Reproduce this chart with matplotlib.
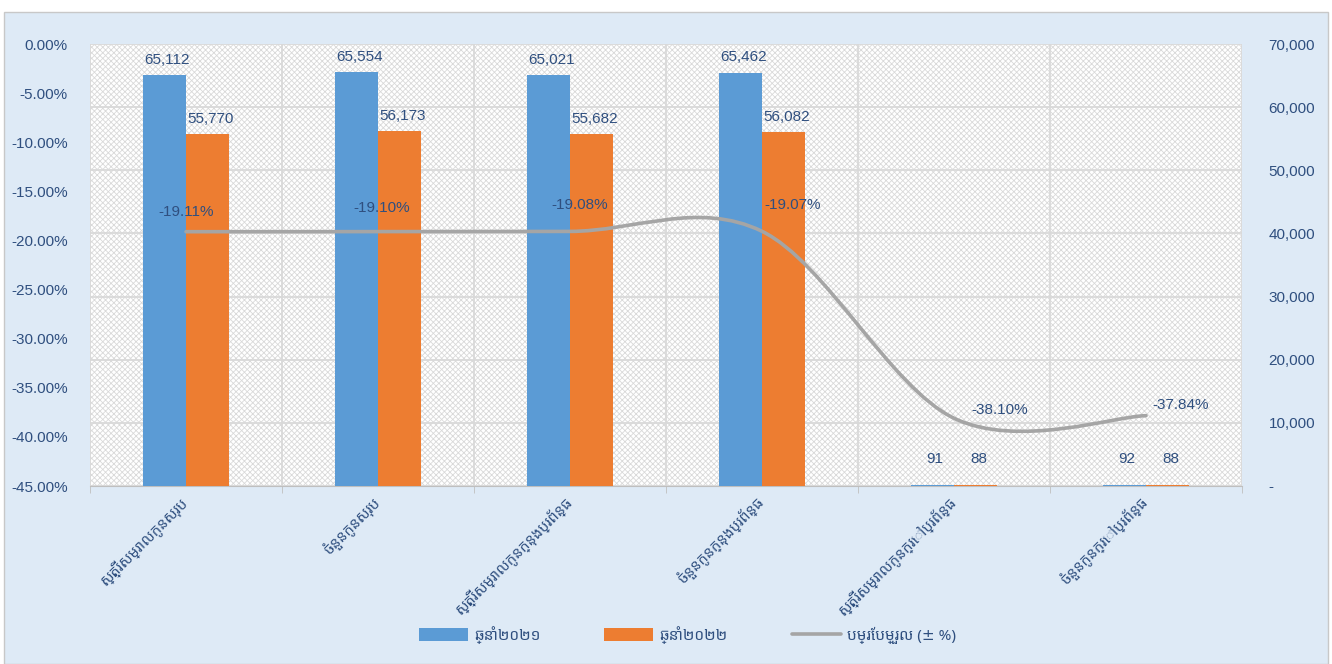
import numpy as np
import matplotlib
matplotlib.use('Agg')
import matplotlib.pyplot as plt
from matplotlib import font_manager as fm
from matplotlib.path import Path
from matplotlib.patches import PathPatch, Rectangle, Patch
from matplotlib.lines import Line2D
from matplotlib.ticker import FuncFormatter, MultipleLocator

categories = ['ស្ត្រីសម្រាលកូនសរុប', 'ចំនួនកូនសរុប', 'ស្ត្រីសម្រាលកូនក្នុងប្រព័ន្ធ',
              'ចំនួនកូនក្នុងប្រព័ន្ធ', 'ស្ត្រីសម្រាលកូនក្រៅប្រព័ន្ធ', 'ចំនួនកូនក្រៅប្រព័ន្ធ']
values_2021 = [65112, 65554, 65021, 65462, 91, 92]
values_2022 = [55770, 56173, 55682, 56082, 88, 88]
change_pct = [-19.11, -19.10, -19.08, -19.07, -38.10, -37.84]
legend_labels = ['ឆ្នាំ២០២១', 'ឆ្នាំ២០២២', 'បម្រែបម្រួល (± %)']

# label offsets for the percent labels (points)
pct_offsets = [(0, 14), (3, 17), (7, 19), (22, 19), (33, 6), (25, 8)]

BLUE = '#5B9BD5'
ORANGE = '#ED7D31'
GRAY = '#A5A5A5'
TXT = '#2F4F7F'
BG = '#DEEAF6'

kh_family = ['Noto Sans Khmer', 'DejaVu Sans']
plt.rcParams['font.family'] = ['Liberation Sans', 'DejaVu Sans']
plt.rcParams['hatch.color'] = '#D4D4D4'
plt.rcParams['hatch.linewidth'] = 0.6

fig = plt.figure(figsize=(13.32, 6.64), dpi=100, facecolor='white')
W, H = 1332, 664
fig.patches.append(Rectangle((4 / W, 0), 1 - 8 / W, 1 - 12 / H, transform=fig.transFigure,
                             facecolor=BG, edgecolor='#C8C8C8', linewidth=1, zorder=-10))

ax = fig.add_axes([90 / W, 1 - 486 / H, 1152 / W, 442 / H])
ax.set_facecolor('white')
ax.patch.set_edgecolor('#D9D9D9')
ax.patch.set_hatch('xxxxxx')
ax.patch.set_linewidth(0)

x = np.arange(len(categories))
bw = 0.225
b1 = ax.bar(x - bw / 2, values_2021, bw, color=BLUE, zorder=3)
b2 = ax.bar(x + bw / 2, values_2022, bw, color=ORANGE, zorder=3)
for bars, vals in ((b1, values_2021), (b2, values_2022)):
    for r, v in zip(bars, vals):
        off = 6 if v > 1000 else 14
        ax.annotate(f'{v:,}', (r.get_x() + r.get_width() / 2, v), xytext=(2, off),
                    textcoords='offset points', ha='center', va='bottom',
                    fontsize=11, color=TXT, zorder=5)

ax.set_xlim(-0.5, len(categories) - 0.5)
ax.set_ylim(0, 70000)
ax.yaxis.grid(True, color='#D9D9D9', linewidth=1.3, zorder=1)
ax.set_axisbelow(True)

# vertical gridlines at category boundaries
ax.set_xticks(np.arange(-0.5, len(categories) + 0.5, 1), minor=True)
ax.xaxis.grid(True, which='minor', color='#D9D9D9', linewidth=1.3)
ax.tick_params(axis='x', which='minor', length=5, color='#BFBFBF')
ax.set_xticks(x)
ax.set_xticklabels(categories, rotation=45, ha='right', va='center',
                   rotation_mode='anchor', family=kh_family, fontsize=10.5, color=TXT)
ax.tick_params(axis='x', which='major', length=0, pad=10)
for s in ('top', 'left', 'right'):
    ax.spines[s].set_visible(False)
ax.spines['bottom'].set_color('#BFBFBF')

ax2 = ax.twinx()
ax2.set_ylim(-45, 0)
ax2.yaxis.set_major_locator(MultipleLocator(5))
ax2.yaxis.set_major_formatter(FuncFormatter(lambda v, p: f'{v:.2f}%'))
ax2.yaxis.tick_left()
ax2.tick_params(axis='y', length=0, labelsize=11, labelcolor=TXT, pad=16)
for s in ax2.spines.values():
    s.set_visible(False)

ax.yaxis.tick_right()
ax.yaxis.set_major_locator(MultipleLocator(10000))
ax.yaxis.set_major_formatter(FuncFormatter(lambda v, p: '-' if v == 0 else f'{int(v):,}'))
ax.tick_params(axis='y', length=0, labelsize=11, labelcolor=TXT, pad=19)

# smoothed line (Catmull-Rom style Bezier like Excel)
pts = np.column_stack([x, change_pct]).astype(float)
ext = np.vstack([pts[0], pts, pts[-1]])
verts = [tuple(pts[0])]
codes = [Path.MOVETO]
for i in range(len(pts) - 1):
    p0, p1, p2, p3 = ext[i], ext[i + 1], ext[i + 2], ext[i + 3]
    c1 = p1 + (p2 - p0) / 6
    c2 = p2 - (p3 - p1) / 6
    verts += [tuple(c1), tuple(c2), tuple(p2)]
    codes += [Path.CURVE4] * 3
ax2.add_patch(PathPatch(Path(verts, codes), facecolor='none', edgecolor=GRAY,
                        linewidth=2.6, capstyle='round', zorder=4))
for xi, v, off in zip(x, change_pct, pct_offsets):
    ax2.annotate(f'{v:.2f}%', (xi, v), xytext=off, textcoords='offset points',
                 ha='center', va='center', fontsize=11, color=TXT)

handles = [Patch(facecolor=BLUE), Patch(facecolor=ORANGE),
           Line2D([0], [0], color=GRAY, linewidth=2.6, solid_capstyle='round')]
leg = fig.legend(handles, legend_labels, loc='center', bbox_to_anchor=(0.516, 1 - 635 / H),
                 ncol=3, frameon=False, handlelength=3.2, handleheight=0.9,
                 columnspacing=4.2, handletextpad=0.4,
                 prop=fm.FontProperties(family=kh_family, size=11))
for t in leg.get_texts():
    t.set_color(TXT)

fig.savefig('out.png', dpi=100, facecolor='white')
